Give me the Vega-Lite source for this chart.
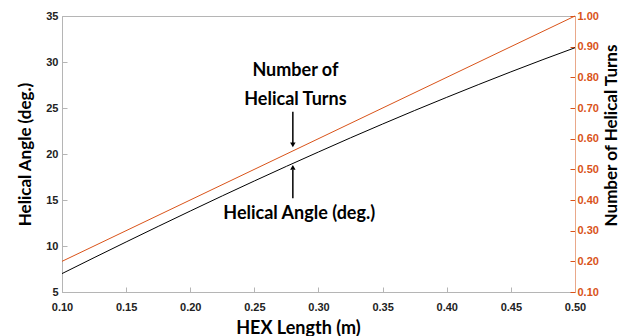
{
  "$schema": "https://vega.github.io/schema/vega-lite/v6.json",
  "autosize": {"type": "none"},
  "padding": {"left": 62, "top": 16, "right": 46, "bottom": 44},
  "width": 513,
  "height": 276,
  "config": {
    "view": {"stroke": "#b5b5b5", "strokeWidth": 1},
    "axis": {
      "grid": false,
      "labelFont": "Liberation Sans",
      "labelFontWeight": "bold",
      "labelFontSize": 11,
      "labelColor": "#222222",
      "labelFlush": false,
      "labelOverlap": false,
      "titleFont": "Lato",
      "titleFontWeight": "bold",
      "titleFontSize": 17,
      "titleColor": "#000000",
      "domainColor": "#b5b5b5",
      "tickColor": "#b5b5b5",
      "tickSize": -5
    }
  },
  "datasets": {
    "angle": [
      {"L": 0.1, "v": 7.0}, {"L": 0.125, "v": 8.73}, {"L": 0.15, "v": 10.44}, {"L": 0.175, "v": 12.13},
      {"L": 0.2, "v": 13.8}, {"L": 0.225, "v": 15.45}, {"L": 0.25, "v": 17.07}, {"L": 0.275, "v": 18.66},
      {"L": 0.3, "v": 20.22}, {"L": 0.325, "v": 21.76}, {"L": 0.35, "v": 23.26}, {"L": 0.375, "v": 24.73},
      {"L": 0.4, "v": 26.16}, {"L": 0.425, "v": 27.56}, {"L": 0.45, "v": 28.93}, {"L": 0.475, "v": 30.26},
      {"L": 0.5, "v": 31.55}
    ],
    "turns": [
      {"L": 0.1, "turns": 0.2}, {"L": 0.5, "turns": 1.0}
    ],
    "labels": [
      {"L": 0.282, "v": 29.0, "text": "Number of"},
      {"L": 0.282, "v": 25.9, "text": "Helical Turns"},
      {"L": 0.285, "v": 13.5, "text": "Helical Angle (deg.)"}
    ],
    "arrows": [
      {"L": 0.28, "v": 24.6, "v2": 21.2},
      {"L": 0.28, "v": 15.2, "v2": 18.3}
    ],
    "heads": [
      {"L": 0.28, "v": 21.0, "shape": "triangle-down"},
      {"L": 0.28, "v": 18.55, "shape": "triangle-up"}
    ]
  },
  "layer": [
    {
      "layer": [
        {
          "data": {"name": "angle"},
          "mark": {"type": "line", "color": "#000000", "strokeWidth": 1},
          "encoding": {
            "x": {
              "field": "L", "type": "quantitative",
              "scale": {"domain": [0.1, 0.5], "nice": false, "zero": false},
              "axis": {
                "title": "HEX Length (m)",
                "values": [0.1, 0.15, 0.2, 0.25, 0.3, 0.35, 0.4, 0.45, 0.5],
                "format": ".2f",
                "labelPadding": 14,
                "titleX": 236,
                "titleY": 36,
                "titleBaseline": "middle",
                "titleFontSize": 18
              }
            },
            "y": {
              "field": "v", "type": "quantitative",
              "scale": {"domain": [5, 35], "nice": false, "zero": false},
              "axis": {
                "title": "Helical Angle (deg.)",
                "values": [5, 10, 15, 20, 25, 30, 35],
                "labelPadding": 9,
                "titleX": -37,
                "titleY": 138,
                "titleAlign": "center",
                "titleBaseline": "middle"
              }
            }
          }
        },
        {
          "data": {"name": "arrows"},
          "mark": {"type": "rule", "color": "#000000", "strokeWidth": 1.5},
          "encoding": {
            "x": {"field": "L", "type": "quantitative"},
            "y": {"field": "v", "type": "quantitative"},
            "y2": {"field": "v2"}
          }
        },
        {
          "data": {"name": "heads"},
          "mark": {"type": "point", "filled": true, "color": "#000000", "size": 30, "opacity": 1},
          "encoding": {
            "x": {"field": "L", "type": "quantitative"},
            "y": {"field": "v", "type": "quantitative"},
            "shape": {"field": "shape", "type": "nominal", "scale": null, "legend": null}
          }
        },
        {
          "data": {"name": "labels"},
          "mark": {"type": "text", "font": "Lato", "fontWeight": "bold", "fontSize": 18, "align": "center", "baseline": "middle", "color": "#000000"},
          "encoding": {
            "x": {"field": "L", "type": "quantitative"},
            "y": {"field": "v", "type": "quantitative"},
            "text": {"field": "text"}
          }
        }
      ]
    },
    {
      "data": {"name": "turns"},
      "mark": {"type": "line", "color": "#D95319", "strokeWidth": 1},
      "encoding": {
        "x": {"field": "L", "type": "quantitative"},
        "y": {
          "field": "turns", "type": "quantitative",
          "scale": {"domain": [0.1, 1.0], "nice": false, "zero": false},
          "axis": {
            "orient": "right",
            "title": "Number of Helical Turns",
            "values": [0.1, 0.2, 0.3, 0.4, 0.5, 0.6, 0.7, 0.8, 0.9, 1.0],
            "format": ".2f",
            "labelColor": "#D95319",
            "tickColor": "#D95319",
            "domainColor": "#e9a88a",
            "labelPadding": 7,
            "titleAngle": -90,
            "titleX": 36,
            "titleY": 119,
            "titleAlign": "center",
            "titleBaseline": "middle",
            "titleFontSize": 17
          }
        }
      }
    }
  ],
  "resolve": {"scale": {"y": "independent"}}
}
